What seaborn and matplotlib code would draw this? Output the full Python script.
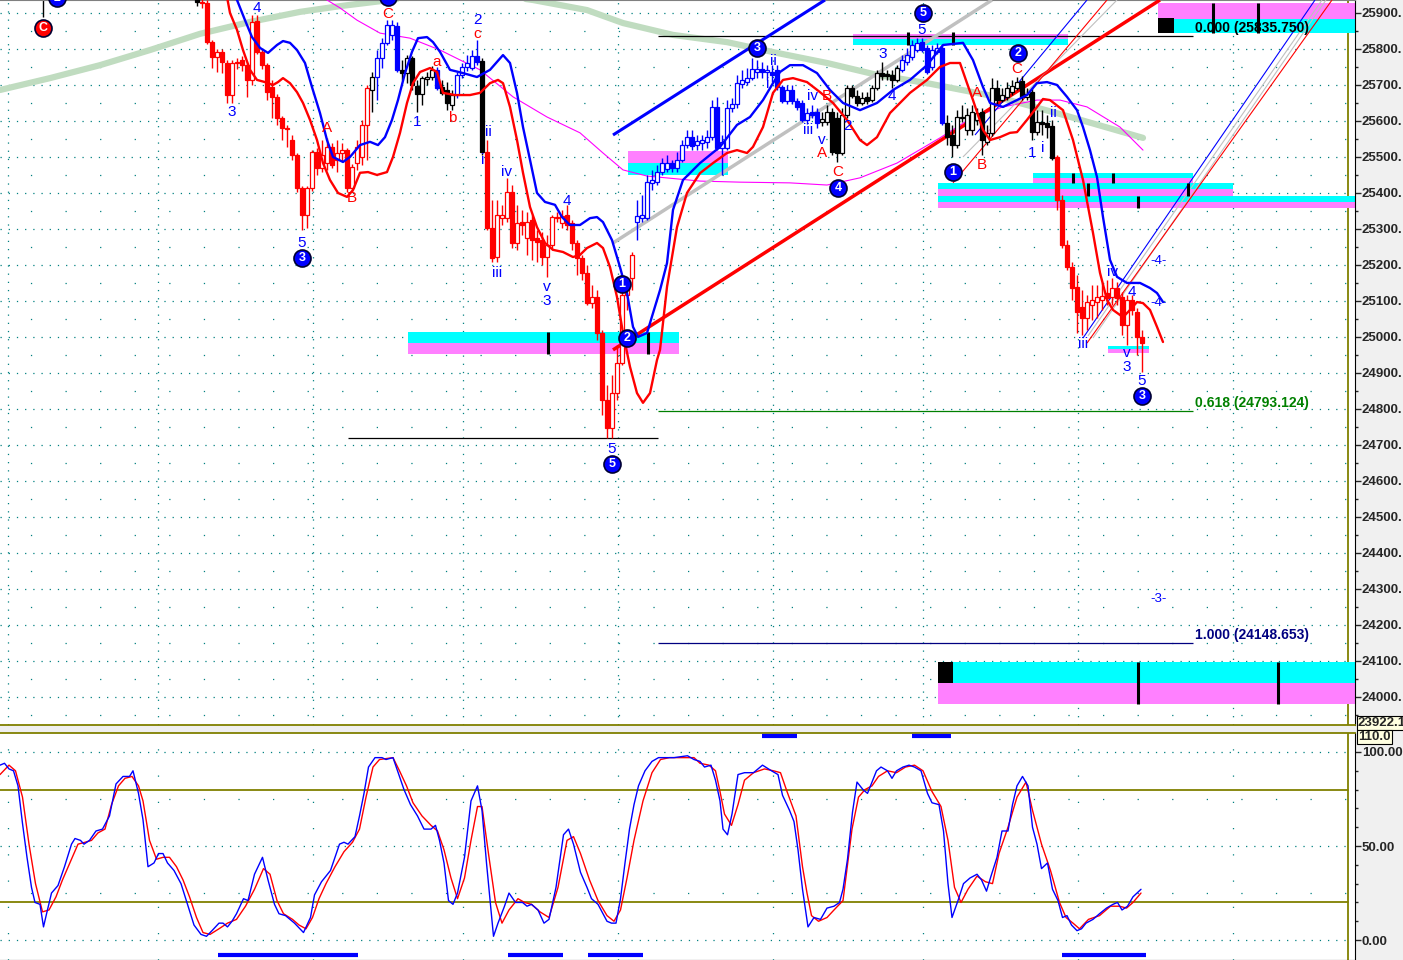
import numpy as np
import pandas as pd
import matplotlib
matplotlib.use("Agg")
import matplotlib.pyplot as plt
import seaborn as sns
from matplotlib.ticker import FixedLocator, FuncFormatter

sns.set_style("white")
plt.rcParams['font.family'] = ['Liberation Sans', 'DejaVu Sans']
plt.rcParams['lines.scale_dashes'] = False

# ---- price bars (bar index 38..228) ----
bar_idx = list(range(38, 229))
opens = [25980, 25945, 25930, 25928, 25820, 25778, 25792, 25761, 25672, 25761,
         25769, 25755, 25714, 25878, 25792, 25755, 25694, 25667, 25608, 25580,
         25547, 25505, 25414, 25339, 25414, 25514, 25469, 25483, 25528, 25492,
         25511, 25519, 25414, 25483, 25500, 25589, 25686, 25722, 25775, 25817,
         25839, 25864, 25742, 25733, 25775, 25697, 25675, 25717, 25722, 25742,
         25694, 25686, 25644, 25672, 25728, 25750, 25747, 25780, 25766, 25514,
         25303, 25222, 25330, 25330, 25403, 25261, 25319, 25275, 25325, 25275,
         25269, 25222, 25255, 25330, 25317, 25339, 25317, 25261, 25219, 25178,
         25094, 25111, 25011, 24825, 24747, 24844, 24928, 25117, 25164, 25319,
         25330, 25330, 25428, 25430, 25458, 25467, 25483, 25469, 25492, 25533,
         25555, 25533, 25539, 25542, 25555, 25639, 25525, 25525, 25636, 25647,
         25703, 25708, 25719, 25736, 25744, 25736, 25736, 25742, 25694, 25655,
         25686, 25655, 25650, 25603, 25625, 25625, 25597, 25597, 25625, 25608,
         25511, 25617, 25692, 25669, 25650, 25667, 25658, 25692, 25733, 25730,
         25728, 25714, 25742, 25764, 25778, 25797, 25820, 25803, 25750, 25792,
         25803, 25594, 25561, 25533, 25608, 25575, 25575, 25603, 25625, 25542,
         25567, 25692, 25658, 25667, 25680, 25692, 25711, 25667, 25680, 25569,
         25597, 25594, 25586, 25500, 25380, 25255, 25194, 25139, 25083, 25053,
         25089, 25097, 25103, 25122, 25111, 25136, 25111, 25033, 25103, 25069,
         25000]
highs = [25995, 25950, 25940, 25936, 25825, 25800, 25800, 25770, 25770, 25775,
         25780, 25760, 25894, 25894, 25800, 25760, 25714, 25675, 25615, 25590,
         25560, 25510, 25420, 25420, 25520, 25525, 25547, 25553, 25540, 25547,
         25540, 25525, 25480, 25547, 25603, 25700, 25736, 25797, 25830, 25880,
         25880, 25875, 25769, 25783, 25780, 25714, 25725, 25736, 25753, 25750,
         25714, 25708, 25686, 25735, 25760, 25783, 25797, 25825, 25775, 25547,
         25380, 25380, 25367, 25442, 25422, 25367, 25353, 25347, 25339, 25297,
         25292, 25283, 25339, 25347, 25353, 25367, 25325, 25269, 25228, 25200,
         25144, 25130, 25019, 24867, 24894, 24978, 25130, 25158, 25236, 25380,
         25394, 25450, 25464, 25478, 25497, 25505, 25492, 25514, 25547, 25575,
         25575, 25561, 25561, 25575, 25658, 25667, 25561, 25658, 25664, 25728,
         25742, 25747, 25775, 25769, 25764, 25755, 25755, 25755, 25700, 25700,
         25700, 25664, 25658, 25636, 25644, 25636, 25625, 25644, 25636, 25625,
         25636, 25700, 25700, 25686, 25680, 25680, 25700, 25742, 25764, 25742,
         25742, 25755, 25783, 25803, 25825, 25830, 25830, 25811, 25811, 25817,
         25811, 25617, 25589, 25630, 25644, 25636, 25644, 25636, 25636, 25589,
         25719, 25714, 25692, 25708, 25714, 25722, 25725, 25692, 25692, 25630,
         25630, 25617, 25603, 25505, 25394, 25269, 25208, 25172, 25130, 25117,
         25144, 25144, 25150, 25158, 25164, 25153, 25125, 25117, 25117, 25080,
         25019]
lows = [25950, 25920, 25915, 25815, 25747, 25736, 25733, 25650, 25650, 25745,
        25740, 25667, 25700, 25785, 25745, 25658, 25608, 25589, 25547, 25528,
        25492, 25403, 25297, 25303, 25405, 25450, 25458, 25464, 25469, 25458,
        25490, 25403, 25403, 25464, 25478, 25492, 25625, 25658, 25747, 25811,
        25825, 25736, 25714, 25706, 25686, 25625, 25644, 25700, 25714, 25686,
        25672, 25630, 25630, 25664, 25720, 25740, 25742, 25755, 25505, 25297,
        25208, 25208, 25311, 25319, 25247, 25242, 25283, 25228, 25214, 25208,
        25200, 25166, 25242, 25319, 25303, 25297, 25242, 25172, 25158, 25089,
        25080, 24992, 24783, 24719, 24719, 24825, 24922, 25075, 25130, 25269,
        25319, 25325, 25408, 25422, 25450, 25458, 25458, 25458, 25486, 25525,
        25519, 25519, 25519, 25525, 25547, 25519, 25450, 25519, 25625, 25636,
        25692, 25700, 25714, 25719, 25719, 25714, 25708, 25686, 25650, 25647,
        25647, 25630, 25597, 25592, 25608, 25580, 25586, 25589, 25505, 25486,
        25505, 25608, 25664, 25642, 25644, 25647, 25653, 25686, 25714, 25714,
        25692, 25708, 25736, 25755, 25769, 25792, 25792, 25730, 25742, 25786,
        25589, 25533, 25500, 25525, 25597, 25561, 25561, 25589, 25505, 25533,
        25558, 25647, 25653, 25658, 25672, 25686, 25658, 25658, 25547, 25561,
        25561, 25553, 25492, 25353, 25247, 25186, 25103, 25011, 25005, 25019,
        25047, 25053, 25075, 25089, 25089, 25089, 25005, 24978, 25061, 24950,
        24903]
closes = [25960, 25930, 25928, 25820, 25778, 25792, 25764, 25672, 25761, 25764,
          25755, 25714, 25875, 25792, 25755, 25680, 25667, 25608, 25580, 25577,
          25505, 25414, 25339, 25414, 25514, 25469, 25505, 25528, 25478, 25511,
          25519, 25414, 25472, 25528, 25589, 25692, 25722, 25775, 25817, 25867,
          25867, 25742, 25733, 25775, 25700, 25675, 25719, 25722, 25742, 25692,
          25678, 25650, 25672, 25728, 25750, 25761, 25780, 25764, 25514, 25303,
          25219, 25339, 25339, 25403, 25261, 25317, 25311, 25319, 25269, 25264,
          25222, 25255, 25333, 25333, 25336, 25311, 25261, 25219, 25178, 25094,
          25111, 25011, 24825, 24747, 24844, 24928, 25117, 25144, 25228, 25336,
          25339, 25430, 25436, 25458, 25483, 25483, 25469, 25492, 25533, 25555,
          25530, 25544, 25547, 25555, 25639, 25525, 25542, 25636, 25647, 25705,
          25714, 25719, 25744, 25744, 25736, 25742, 25728, 25694, 25655, 25686,
          25655, 25639, 25603, 25622, 25617, 25594, 25605, 25625, 25514, 25511,
          25617, 25692, 25669, 25650, 25664, 25655, 25692, 25733, 25725, 25725,
          25714, 25747, 25769, 25783, 25811, 25817, 25797, 25736, 25797, 25803,
          25594, 25555, 25533, 25611, 25611, 25617, 25625, 25622, 25547, 25567,
          25692, 25658, 25672, 25692, 25697, 25708, 25667, 25675, 25569, 25597,
          25592, 25583, 25497, 25380, 25255, 25194, 25136, 25069, 25053, 25097,
          25103, 25111, 25114, 25108, 25136, 25108, 25033, 25103, 25075, 25000,
          24983]
bar_colors = ("rkrrrrrrrr" "rrrrrrrrrr" "rrrrrrrrrr" "rrrrrrkbbb" "bbkkkkkkkb"
              "kkkbbbbbkr" "rrrrrrrrrr" "rrrrrrrrrr" "rrrrrrrrrb" "bbbbbbbbbb"
              "bbbbbbbbbb" "bbbbbbbbbb" "bbbbbbkkkk" "kkkkkkkkkk" "kkbbbbbbbb"
              "bkkkkkkkkk" "kkkkkkkkkk" "kkkrrrrrrr" "rrrrrrrrrr" "r")

# ---- envelope bands ----
upper_x = [44.6, 47, 48.6, 50, 51.6, 53.2, 55, 56.2, 57.6, 59, 60.6, 62, 63.6, 65, 66.2, 68.2, 69.6,
           71.6, 73.6, 75.2, 76.6, 78, 79.2, 80.6, 82, 83.2, 85, 86.2, 87.6, 89.6, 92.2, 95, 97.6,
           100.2, 101.6, 103, 104.2, 105.6, 107, 108.6, 110.6, 112, 113.6, 115.6, 117.6, 119, 120.2,
           122, 123.6, 125, 126.2, 127.2, 129, 130.2, 131.6, 133, 134.2, 136.2, 139.6, 143.6, 147,
           149.6, 152.2, 154.2, 155.6, 157.6, 160.2, 163, 165.6, 168.2, 171.6, 175, 178.2, 181.6,
           185, 188.2, 192.2, 194.2, 196.2, 197.6, 200.2, 203, 205, 207, 209, 211, 213, 215, 216.2,
           217.6, 219, 220.2, 221.6, 223, 225, 227.6, 229.6, 231, 232.2]
upper_p = [26047, 25936, 25880, 25833, 25803, 25789, 25811, 25822, 25817, 25797, 25761, 25694,
           25622, 25547, 25500, 25486, 25500, 25533, 25542, 25533, 25555, 25603, 25658, 25733,
           25792, 25830, 25833, 25819, 25792, 25742, 25733, 25722, 25742, 25783, 25761, 25678,
           25583, 25492, 25400, 25375, 25367, 25333, 25311, 25311, 25330, 25333, 25319, 25269,
           25194, 25122, 25028, 25000, 25011, 25066, 25130, 25205, 25353, 25436, 25483, 25528,
           25589, 25611, 25658, 25705, 25736, 25755, 25755, 25733, 25686, 25650, 25630, 25650,
           25686, 25714, 25755, 25811, 25817, 25769, 25694, 25650, 25639, 25658, 25672, 25705,
           25708, 25700, 25667, 25630, 25583, 25519, 25444, 25333, 25214, 25167, 25150, 25150,
           25136, 25122, 25097]
lower_x = [44, 45.6, 47, 48.2, 49.6, 51, 52.6, 54.2, 55.2, 56.2, 57.6, 59, 60.2, 61.6, 63, 64.2,
           65.6, 67.2, 69, 70.2, 71.6, 73.2, 75, 77, 78.2, 79.6, 81, 82.2, 83.6, 85.6, 87, 88.2,
           90.6, 93.6, 95.6, 97.6, 99.2, 100.2, 101.6, 103, 104.2, 105.6, 107, 108.6, 110.2, 112.2,
           114.2, 115.6, 117, 119, 120.2, 121.6, 123, 124.2, 125.6, 127, 128.2, 129.6, 131, 131.6,
           133, 135, 137, 139.6, 142.2, 145, 147, 149, 150.2, 152.2, 154.2, 156.2, 158.2, 161,
           163.6, 166.2, 169, 171.6, 173, 175, 177.6, 181.6, 185, 187.6, 189.6, 191.6, 193, 194.2,
           196.2, 197.6, 199.6, 201.6, 203, 205, 207, 208.2, 209.6, 212.2, 214.2, 216.2, 218.2,
           219.6, 221, 222.2, 224.2, 225.6, 227, 228.2, 229.6, 231, 232.2]
lower_p = [26019, 25900, 25853, 25797, 25742, 25714, 25708, 25700, 25708, 25719, 25705, 25680,
           25650, 25603, 25547, 25483, 25436, 25400, 25389, 25408, 25456, 25458, 25450, 25458,
           25500, 25567, 25650, 25705, 25736, 25747, 25736, 25678, 25672, 25672, 25678, 25705,
           25714, 25705, 25639, 25547, 25456, 25361, 25305, 25261, 25242, 25236, 25222, 25228,
           25247, 25261, 25247, 25194, 25111, 25011, 24917, 24844, 24817, 24844, 24936, 24964,
           25139, 25305, 25400, 25455, 25483, 25511, 25519, 25511, 25528, 25583, 25678, 25714,
           25719, 25708, 25680, 25650, 25603, 25547, 25533, 25555, 25622, 25678, 25714, 25750,
           25761, 25761, 25705, 25658, 25575, 25547, 25555, 25567, 25569, 25603, 25639, 25661,
           25658, 25630, 25547, 25436, 25289, 25178, 25103, 25075, 25055, 25075, 25097, 25094,
           25075, 25028, 24986]

# ---- moving averages ----
ma_slow_x = [-0.4, 9.6, 19.6, 29.6, 39.6, 49.6, 59.6, 67.6, 77.6, 91.6, 106.2, 117, 124.2,
             134.2, 145, 155, 165, 175, 185, 199, 212.2, 228.2]
ma_slow_p = [25686, 25719, 25755, 25797, 25842, 25875, 25903, 25919, 25936, 25964, 25936, 25908,
             25872, 25839, 25819, 25789, 25761, 25728, 25705, 25667, 25617, 25553]
ma_mid_x = [62.6, 65, 67.6, 71, 75.6, 81.6, 87.6, 95.6, 102.2, 109, 115.6, 120.2, 124.2, 129,
            139.6, 147.6, 157.6, 165, 171.6, 179, 187.6, 194.2, 200.2, 207, 211.6, 217, 223.6, 228.2]
ma_mid_p = [25964, 25936, 25914, 25880, 25844, 25830, 25797, 25742, 25667, 25611, 25567, 25511,
            25464, 25447, 25433, 25430, 25428, 25422, 25442, 25483, 25553, 25611, 25639, 25658,
            25658, 25639, 25583, 25519]

# ---- stochastic ----
k_x = [-0.4, 0.5, 1.4, 2.3, 3.2, 4.1, 5.0, 5.9, 6.6, 7.6, 8.3, 9.0, 9.9, 11.2, 12.5, 13.9, 14.6,
       15.7, 16.4, 17.5, 18.8, 20.1, 21.5, 22.8, 24.2, 25.5, 26.2, 27.3, 28.2, 29.2, 30.4, 31.3,
       32.2, 33.1, 34.4, 35.8, 37.1, 38.4, 39.8, 40.9, 42.0, 43.4, 44.2, 45.1, 46.0, 46.9, 48.3,
       49.2, 50.5, 52.1, 53.2, 54.5, 55.4, 56.7, 58.5, 60.3, 61.7, 62.5, 63.9, 65.7, 67.5, 68.4,
       69.2, 70.6, 71.5, 72.4, 73.3, 74.6, 76.0, 76.8, 78.2, 79.5, 80.4, 81.7, 83.1, 84.4, 85.8,
       86.7, 87.5, 88.4, 89.3, 90.2, 91.1, 92.5, 93.8, 95.1, 96.0, 96.9, 98.3, 99.2, 100.5, 101.4,
       102.7, 104.1, 105.0, 105.9, 107.2, 108.4, 109.4, 110.8, 112.3, 113.3, 114.3, 115.7, 117.0,
       117.9, 119.2, 121.0, 121.9, 122.8, 123.7, 124.6, 125.5, 126.4, 127.3, 128.6, 130.0, 131.3,
       132.6, 134.4, 137.1, 138.4, 139.6, 140.5, 141.8, 142.7, 143.6, 144.2, 145.1, 146.0, 147.2,
       148.5, 150.3, 152.1, 153.9, 155.2, 156.1, 157.5, 158.4, 159.2, 160.1, 161.2, 162.4, 163.7,
       165.0, 166.4, 167.5, 168.2, 169.1, 170.1, 171.0, 172.2, 173.1, 174.0, 174.9, 175.8, 177.1,
       178.0, 178.9, 180.2, 181.4, 182.5, 183.8, 185.1, 186.0, 187.4, 188.3, 189.2, 190.0, 191.2,
       192.3, 193.6, 195.0, 195.9, 196.9, 197.8, 199.0, 200.0, 201.2, 202.1, 203.0, 204.1, 205.2,
       206.1, 207.0, 207.9, 209.1, 210.1, 211.2, 212.1, 213.0, 213.9, 215.0, 215.9, 216.8, 218.2,
       219.5, 220.9, 222.2, 223.1, 224.0, 225.1, 226.2, 227.8]
k_val = [93, 94, 91, 90, 82, 62, 44, 28, 20, 19, 7, 15, 25, 29, 39, 51, 54, 53, 51, 53, 58, 59, 66,
         83, 87, 87, 90, 78, 64, 39, 41, 46, 46, 41, 37, 30, 19, 8, 3, 2, 5, 9, 9, 7, 10, 14, 22, 21,
         35, 44, 32, 19, 14, 13, 9, 4, 12, 24, 31, 37, 51, 52, 51, 55, 66, 78, 92, 97, 97, 96, 97, 87,
         80, 72, 66, 59, 59, 61, 53, 41, 21, 19, 25, 44, 74, 82, 69, 41, 2, 9, 18, 25, 20, 20, 18, 19,
         16, 9, 11, 28, 56, 59, 51, 36, 28, 22, 19, 10, 9, 9, 22, 41, 59, 72, 82, 90, 95, 97, 97, 97,
         98, 96, 95, 92, 93, 85, 74, 59, 56, 67, 88, 89, 89, 93, 90, 88, 77, 69, 63, 48, 27, 7, 12, 11,
         17, 18, 20, 27, 43, 68, 84, 80, 78, 84, 90, 92, 90, 86, 90, 92, 93, 92, 90, 78, 73, 72, 58,
         30, 12, 21, 30, 33, 35, 32, 26, 34, 44, 58, 58, 72, 82, 87, 82, 60, 51, 38, 41, 27, 21, 12,
         13, 8, 5, 6, 9, 11, 14, 17, 19, 20, 16, 18, 23, 27]
d_x = [-0.4, 1.4, 2.7, 4.1, 5.4, 6.7, 8.1, 9.4, 10.8, 12.1, 13.9, 15.2, 16.6, 17.9, 19.2, 20.6,
       21.9, 23.3, 24.6, 26.0, 27.3, 28.2, 29.5, 30.9, 32.2, 33.5, 34.9, 36.2, 37.5, 38.9, 40.2,
       41.6, 43.4, 45.1, 46.9, 48.7, 50.5, 52.3, 53.6, 55.0, 56.3, 58.1, 59.4, 60.8, 62.1, 63.4,
       64.8, 66.6, 68.4, 70.1, 71.5, 72.8, 74.2, 75.5, 78.2, 79.5, 80.9, 82.2, 84.0, 85.8, 87.1,
       88.4, 89.8, 91.1, 92.5, 93.8, 95.1, 96.0, 97.4, 98.7, 100.0, 101.4, 103.2, 104.5, 105.9,
       107.6, 109.4, 111.2, 113.0, 114.3, 115.7, 117.5, 119.2, 121.0, 122.4, 123.7, 125.0, 126.4,
       128.2, 130.0, 131.7, 133.5, 136.2, 138.4, 139.6, 141.4, 142.7, 143.6, 144.5, 145.9, 147.2,
       148.5, 150.3, 152.5, 154.3, 155.7, 157.0, 158.8, 160.1, 161.0, 161.9, 163.3, 165.0, 166.4,
       168.2, 170.0, 171.3, 172.6, 174.0, 175.3, 177.1, 178.9, 180.7, 182.5, 184.2, 186.0, 187.8,
       189.2, 190.5, 191.8, 193.2, 195.0, 196.7, 198.1, 199.4, 201.2, 203.0, 204.8, 206.1, 207.9,
       209.7, 211.5, 212.8, 214.2, 215.5, 217.3, 219.5, 221.7, 223.5, 224.9, 226.2, 227.8]
d_val = [88, 93, 90, 76, 51, 30, 15, 16, 23, 32, 43, 51, 52, 53, 57, 59, 72, 82, 86, 87, 82, 74, 53,
         43, 44, 44, 39, 32, 23, 12, 4, 3, 6, 9, 11, 18, 27, 38, 35, 21, 14, 11, 8, 6, 12, 22, 30, 39,
         47, 52, 59, 76, 92, 96, 97, 90, 82, 73, 66, 61, 58, 48, 33, 22, 33, 53, 71, 71, 44, 20, 9, 16,
         22, 20, 19, 15, 12, 28, 53, 55, 46, 32, 21, 13, 10, 16, 33, 53, 74, 89, 96, 97, 97, 97, 94,
         93, 90, 79, 67, 61, 72, 85, 89, 91, 90, 89, 79, 66, 39, 25, 13, 10, 12, 16, 21, 59, 76, 80,
         82, 87, 90, 89, 92, 93, 90, 79, 71, 53, 28, 20, 27, 34, 31, 30, 46, 60, 76, 84, 69, 51, 37,
         20, 12, 9, 6, 11, 13, 18, 18, 17, 20, 25]
stoch_bottom_bars = [(43.2, 71.2), (101.2, 112.2), (117.2, 128.2), (212.0, 228.8)]
stoch_top_bars = [(152.0, 159.0), (182.0, 189.8)]

# ---- supply / demand zones: x0, x1, low, high, colour ----
zones = [
    (81.2, 135.4, 24983, 25014, '#00ffff'), (81.2, 135.4, 24953, 24983, '#ff80ff'),
    (125.2, 145.2, 25483, 25517, '#ff80ff'), (125.2, 145.2, 25450, 25483, '#00ffff'),
    (170.2, 213.2, 25828, 25842, '#ff80ff'), (170.2, 213.2, 25811, 25828, '#00ffff'),
    (231.2, 270.6, 25883, 25928, '#ff80ff'), (231.2, 270.6, 25844, 25883, '#00ffff'),
    (206.2, 238.2, 25441, 25455, '#00ffff'), (206.2, 238.2, 25428, 25441, '#ff80ff'),
    (187.2, 246.2, 25411, 25428, '#00ffff'), (187.2, 246.2, 25392, 25411, '#ff80ff'),
    (187.2, 270.6, 25375, 25392, '#00ffff'), (187.2, 270.6, 25358, 25375, '#ff80ff'),
    (221.2, 229.4, 24967, 24975, '#00ffff'), (221.2, 229.4, 24955, 24967, '#ff80ff'),
    (187.2, 270.6, 24039, 24097, '#00ffff'), (187.2, 270.6, 23980, 24039, '#ff80ff'),
]
zone_ticks = [(109.2, 24953, 25014), (129.2, 24953, 25014), (181.2, 25811, 25848),
              (190.2, 25811, 25848), (242.2, 25844, 25928), (251.2, 25844, 25928),
              (214.2, 25428, 25455), (222.2, 25428, 25455), (217.2, 25392, 25428),
              (237.2, 25392, 25428), (227.2, 25358, 25392), (227.2, 23980, 24097),
              (255.2, 23980, 24097)]
zone_squares = [(231.2, 234.4, 25844, 25886), (187.2, 190.2, 24039, 24097)]

# ---- trend lines: (x0, p0, x1, p1, colour, width) ----
trend_lines = [
    (122.2, 25561, 164.6, 25936, '#0000ff', 2.2),
    (122.2, 25261, 198.0, 25936, '#c0c0c0', 2.5),
    (122.2, 24964, 231.6, 25936, '#ff0000', 2.5),
    (194.6, 25561, 217.0, 25936, '#0000ff', 0.8),
    (192.2, 25500, 223.0, 25936, '#c0c0c0', 0.8),
    (190.2, 25428, 221.0, 25936, '#ff0000', 0.8),
    (216.2, 24997, 262.6, 25936, '#0000ff', 0.8),
    (217.2, 25003, 264.0, 25936, '#c0c0c0', 0.8),
    (218.2, 24997, 264.8, 25936, '#c0c0c0', 0.8),
    (217.0, 24983, 266.0, 25936, '#ff0000', 0.8),
]
fib_levels = [(25835.75, 'black', '0.000 (25835.750)', 25858),
              (24793.124, '#008000', '0.618 (24793.124)', 24817),
              (24148.653, '#000080', '1.000 (24148.653)', 24172)]

# ---- wave labels: text, x, price, colour, circled ----
waves = [
    ('C', 8.2, 25858, 'r', True), ('2', 11, 25942, 'b', True), ('3', 77.2, 25944, 'b', True),
    ('4', 51, 25914, 'b', False), ('3', 46, 25625, 'b', False), ('5', 60, 25261, 'b', False),
    ('3', 60, 25219, 'b', True), ('A', 65, 25580, 'r', False), ('B', 70, 25386, 'r', False),
    ('C', 77.2, 25897, 'r', False), ('1', 83, 25597, 'b', False), ('a', 87, 25764, 'r', False),
    ('b', 90, 25608, 'r', False), ('2', 95, 25880, 'b', False), ('c', 95, 25842, 'r', False),
    ('ii', 97.2, 25569, 'b', False), ('i', 96.2, 25492, 'b', False), ('iv', 101, 25458, 'b', False),
    ('iii', 99, 25178, 'b', False), ('4', 113, 25378, 'b', False), ('v', 109, 25140, 'b', False),
    ('3', 109, 25100, 'b', False), ('1', 124, 25147, 'b', True), ('2', 125, 24997, 'b', True),
    ('5', 122, 24689, 'b', False), ('5', 122, 24647, 'b', True), ('3', 151, 25803, 'b', True),
    ('ii', 154.2, 25767, 'b', False), ('i', 153.2, 25703, 'b', False), ('iv', 162, 25669, 'b', False),
    ('B', 165, 25669, 'r', False), ('2', 169, 25586, 'b', False), ('iii', 161.2, 25575, 'b', False),
    ('v', 164, 25547, 'b', False), ('A', 164, 25511, 'r', False), ('C', 167.2, 25458, 'r', False),
    ('4', 167.2, 25414, 'b', True), ('3', 176.2, 25786, 'b', False), ('4', 178, 25669, 'b', False),
    ('5', 184, 25853, 'b', False), ('5', 184.2, 25900, 'b', True), ('1', 190.2, 25458, 'b', True),
    ('A', 195, 25678, 'r', False), ('B', 196, 25478, 'r', False), ('2', 203.2, 25789, 'b', True),
    ('C', 203, 25744, 'r', False), ('1', 206, 25511, 'b', False), ('i', 208.2, 25525, 'b', False),
    ('ii', 210.2, 25622, 'b', False), ('iii', 216.2, 24980, 'b', False), ('iv', 222.2, 25180, 'b', False),
    ('4', 226, 25125, 'b', False), ('v', 225, 24955, 'b', False), ('3', 225, 24916, 'b', False),
    ('5', 228, 24878, 'b', False), ('3', 228, 24836, 'b', True),
]
targets = [('-4-', 229.6, 25211), ('-4-', 229.6, 25094), ('-3-', 229.6, 24272)]
sessions = [1.2, 31.2, 62.2, 92.2, 123.2, 154.2, 184.2, 215.2, 246.2]

RED, BLUE, BLACK, OLIVE, TEAL = '#ff0000', '#0000ff', '#000000', '#808000', '#008080'
cmap = {'r': RED, 'b': BLUE, 'k': BLACK}
XMIN, XMAX = -0.4, 270.6
XCUT = (269.2 - XMIN) / (XMAX - XMIN)

fig = plt.figure(figsize=(14.03, 9.6), dpi=100, facecolor='#f0f0f0')
ax = fig.add_axes([0, 235 / 960, 1355 / 1403, 725 / 960])
ax2 = fig.add_axes([0, 0, 1355 / 1403, 227 / 960])

# ---------- main panel ----------
ax.set_facecolor('white')
ax.set_xlim(XMIN, XMAX)
ax.set_ylim(23922, 25936)

for lvl in range(24000, 25901, 100):
    ax.axhline(lvl, xmax=XCUT, color=TEAL, lw=0.9, ls=(0, (0.9, 5)), zorder=0)
for lvl in range(23950, 25951, 100):
    ax.axhline(lvl, xmax=XCUT, color=TEAL, lw=0.9, ls=(3, (0.9, 24)), zorder=0)
for s in sessions:
    ax.axvline(s, color=TEAL, lw=0.9, ls=(0, (0.9, 5)), zorder=0)
ax.axvline(269.2, color=OLIVE, lw=1.3, zorder=1)

for x0, x1, lo, hi, c in zones:
    ax.fill_between([x0, x1], lo, hi, color=c, lw=0, zorder=1)
for x0, x1, lo, hi in zone_squares:
    ax.fill_between([x0, x1], lo, hi, color=BLACK, lw=0, zorder=2)
for x, lo, hi in zone_ticks:
    ax.vlines(x, lo, hi, color=BLACK, lw=2.2, zorder=6)

sns.lineplot(x=ma_slow_x, y=ma_slow_p, ax=ax, color='#c0dcc0', lw=4.5, sort=False, estimator=None, zorder=2)
sns.lineplot(x=ma_mid_x, y=ma_mid_p, ax=ax, color='#ff00ff', lw=0.8, sort=False, estimator=None, zorder=3)

for x0, p0, x1, p1, c, w in trend_lines:
    ax.plot([x0, x1], [p0, p1], color=c, lw=w, zorder=3, solid_capstyle='butt')

for lvl, c, label, ty in fib_levels:
    ax.hlines(lvl, 131.2, 238.2, color=c, lw=0.9, zorder=2)
    ax.text(238.6, ty, label, color=c, fontsize=10, fontweight='bold', ha='left', va='center', zorder=9)
ax.hlines(24719, 69.2, 131.2, color=BLACK, lw=0.9, zorder=2)
ax.vlines(8.2, 25889, 25936, color=BLACK, lw=1, zorder=2)

# candles
df = pd.DataFrame({'i': bar_idx, 'o': opens, 'h': highs, 'l': lows, 'c': closes,
                   'col': list(bar_colors)})
df['edge'] = df['col'].map(cmap)
df['face'] = np.where(df['c'] < df['o'], df['edge'], 'white')
df['bottom'] = df[['o', 'c']].min(axis=1)
df['height'] = (df['c'] - df['o']).abs().clip(lower=2.5)
ax.vlines(df['i'], df['l'], df['h'], colors=df['edge'], lw=1, zorder=4)
ax.bar(df['i'], df['height'], bottom=df['bottom'], width=0.74, color=df['face'],
       edgecolor=df['edge'], linewidth=0.9, zorder=5)

sns.lineplot(x=upper_x, y=upper_p, ax=ax, color=BLUE, lw=1.7, sort=False, estimator=None, zorder=6)
sns.lineplot(x=lower_x, y=lower_p, ax=ax, color=RED, lw=1.7, sort=False, estimator=None, zorder=6)

for txt, x, p, c, circ in waves:
    col = cmap[c]
    if circ:
        ax.scatter([x], [p], s=150, color=col, edgecolors='#000033', linewidths=1.2, zorder=8)
        ax.text(x, p, txt, color='white', fontsize=9, fontweight='bold', ha='center', va='center', zorder=9)
    else:
        ax.text(x, p, txt, color=col, fontsize=11, ha='center', va='center', zorder=9)
for txt, x, p in targets:
    ax.text(x, p, txt, color=BLUE, fontsize=9.5, ha='left', va='center', zorder=9)

ax.set_xticks([])
ax.yaxis.tick_right()
ax.set_yticks(list(range(24000, 25901, 100)))
ax.yaxis.set_minor_locator(FixedLocator(list(range(23950, 25951, 100))))
ax.yaxis.set_major_formatter(FuncFormatter(lambda v, _: f"{v:.0f}."))
ax.tick_params(axis='y', which='major', direction='out', length=4, width=1, pad=1, labelsize=9.5)
ax.tick_params(axis='y', which='minor', direction='out', length=2, width=1)
for lbl in ax.get_yticklabels():
    lbl.set_fontweight('bold')
ax.spines['left'].set_visible(False)
ax.spines['top'].set_color('#808080')
ax.spines['right'].set_color(BLACK)
ax.spines['bottom'].set_color(OLIVE)
ax.spines['bottom'].set_linewidth(1.3)

# ---------- stochastic panel ----------
ax2.set_facecolor('white')
ax2.set_xlim(XMIN, XMAX)
ax2.set_ylim(-10.6, 110.1)
for lvl in (0, 50, 100):
    ax2.axhline(lvl, xmax=XCUT, color=TEAL, lw=0.9, ls=(0, (0.9, 5)), zorder=0)
for lvl in (75, 25):
    ax2.axhline(lvl, xmax=XCUT, color=TEAL, lw=0.9, ls=(3, (0.9, 24)), zorder=0)
for s in sessions:
    ax2.axvline(s, color=TEAL, lw=0.9, ls=(0, (0.9, 18)), zorder=0)
for lvl in (20, 80):
    ax2.axhline(lvl, xmax=XCUT, color=OLIVE, lw=1.3, zorder=1)
ax2.axvline(269.2, color=OLIVE, lw=1.3, zorder=1)

sns.lineplot(x=d_x, y=d_val, ax=ax2, color=RED, lw=1.0, sort=False, estimator=None, zorder=3)
sns.lineplot(x=k_x, y=k_val, ax=ax2, color=BLUE, lw=1.0, sort=False, estimator=None, zorder=4)
for x0, x1 in stoch_bottom_bars:
    ax2.hlines(-8, x0, x1, color=BLUE, lw=3, zorder=5)
for x0, x1 in stoch_top_bars:
    ax2.hlines(108.3, x0, x1, color=BLUE, lw=3, zorder=5)

ax2.set_xticks([])
ax2.yaxis.tick_right()
ax2.set_yticks([0, 50, 100])
ax2.yaxis.set_minor_locator(FixedLocator([10, 20, 30, 40, 60, 70, 80, 90]))
ax2.yaxis.set_major_formatter(FuncFormatter(lambda v, _: f"{v:.2f}"))
ax2.tick_params(axis='y', which='major', direction='out', length=4, width=1, pad=1, labelsize=9.5)
ax2.tick_params(axis='y', which='minor', direction='out', length=2, width=1)
for lbl in ax2.get_yticklabels():
    lbl.set_fontweight('bold')
ax2.spines['left'].set_visible(False)
ax2.spines['top'].set_color(OLIVE)
ax2.spines['top'].set_linewidth(1.3)
ax2.spines['right'].set_color(BLACK)
ax2.spines['bottom'].set_color(BLACK)
for a in (ax, ax2):
    a.set_xlabel('')
    a.set_ylabel('')

# value boxes on the scale
fig.text(1358 / 1403, 1 - 723 / 960, "23922.1", fontsize=9.5, fontweight='bold', ha='left', va='center',
         bbox=dict(facecolor='#ffffe1', edgecolor='black', pad=1.0, lw=0.8))
fig.text(1358 / 1403, 1 - 737 / 960, "110.0", fontsize=9.5, fontweight='bold', ha='left', va='center',
         bbox=dict(facecolor='#ffffe1', edgecolor='black', pad=1.0, lw=0.8))

fig.savefig("out.png", dpi=100, facecolor=fig.get_facecolor())
